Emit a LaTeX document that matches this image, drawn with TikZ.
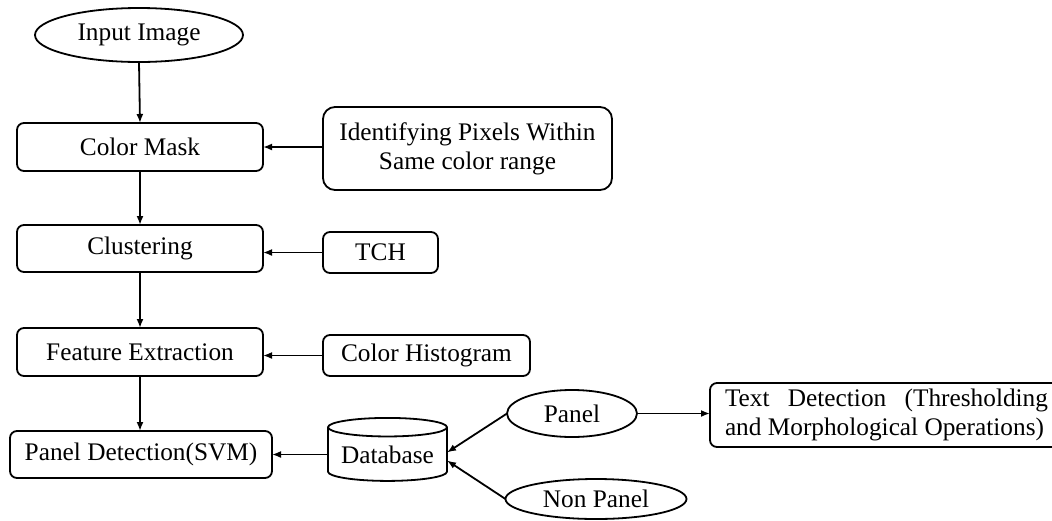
\documentclass[tikz,border=0pt]{standalone}
\usepackage{fontspec}
\setmainfont{Liberation Serif}
\usetikzlibrary{shapes.geometric,arrows.meta,positioning}

\begin{document}
\begin{tikzpicture}[x=1pt,y=-1pt]
  \tikzset{>={Latex[length=9pt,width=7pt]}}
  \tikzset{stepbox/.style={draw,rectangle,rounded corners=7pt,inner sep=0pt,outer sep=0pt,line width=1.8pt,align=center,font=\fontsize{25.3}{29}\selectfont}}
  \tikzset{ovalbox/.style={draw,ellipse,inner sep=0pt,outer sep=0pt,line width=1.8pt,font=\fontsize{25.3}{29}\selectfont}}
  \tikzset{flow/.style={->,line width=1.8pt}}

  \useasboundingbox (0,0) rectangle (1052,520);

%%%%%%%%%%%%%%%%%%%%%%%%%%
  \node[ovalbox,minimum width=208pt,minimum height=54pt] at (139,35) (NInput) {Input Image};

%%%%%%%%%%%%%%%%%%%%%%%%%%
  \node[stepbox,minimum width=246pt,minimum height=48pt] at (140,147) (NColorMask) {Color Mask};
  \node[stepbox,minimum width=246pt,minimum height=47pt] at (140,248.5) (NClustering) {Clustering};
  \node[stepbox,minimum width=246pt,minimum height=48pt] at (140,352) (NFeature) {Feature Extraction};
  \node[stepbox,minimum width=262pt,minimum height=47pt] at (141,454.5) (NPanelDet) {Panel Detection(SVM)};

%%%%%%%%%%%%%%%%%%%%%%%%%%
  \node[stepbox,minimum width=289pt,minimum height=83pt,rounded corners=12pt] at (467.5,148.5) (NIdentify) {Identifying Pixels Within\\Same color range};
  \node[stepbox,minimum width=115pt,minimum height=41pt] at (380.5,252.5) (NTCH) {TCH};
  \node[stepbox,minimum width=207pt,minimum height=41pt] at (426.5,355.5) (NColorHist) {Color Histogram};

%%%
  \node[draw,cylinder,shape border rotate=90,aspect=0.2,minimum width=119pt,minimum height=63pt,inner sep=0pt,outer sep=0pt,line width=1.8pt,font=\fontsize{25.3}{29}\selectfont] at (387.5,454.5) (NDatabase) {Database};
  \node[ovalbox,minimum width=130pt,minimum height=47pt] at (572,413.5) (NPanel) {Panel};
  \node[ovalbox,minimum width=181pt,minimum height=40pt] at (596,499) (NNonPanel) {Non Panel};
  \node[stepbox,anchor=west,align=justify,text width=323pt,inner xsep=15pt,minimum height=64pt] at (710,415) (NTextDet) {Text Detection (Thresholding and Morphological Operations)};

%DOWN
  \draw[flow] (NInput.south) -- (NColorMask.north);
  \draw[flow] (NColorMask.south) -- (NClustering.north);
  \draw[flow] (NClustering.south) -- (NFeature.north);
  \draw[flow] (NFeature.south) -- (NFeature.south |- NPanelDet.north);

%SIDE
  \draw[flow] (NIdentify.west |- NColorMask.east) -- (NColorMask.east);
  \draw[flow] (NTCH.west) -- (NTCH.west -| NClustering.east);
  \draw[flow] (NColorHist.west) -- (NColorHist.west -| NFeature.east);
  \draw[flow] (NDatabase.west |- NPanelDet.east) -- (NPanelDet.east);

%DATABASE
  \draw[flow] (NPanel.west) -- ([yshift=2pt]NDatabase.east);
  \draw[flow] (NNonPanel.west) -- ([yshift=-6pt]NDatabase.east);
  \draw[flow] (NPanel.east) -- (NPanel.east -| NTextDet.west);

\end{tikzpicture}
\end{document}
